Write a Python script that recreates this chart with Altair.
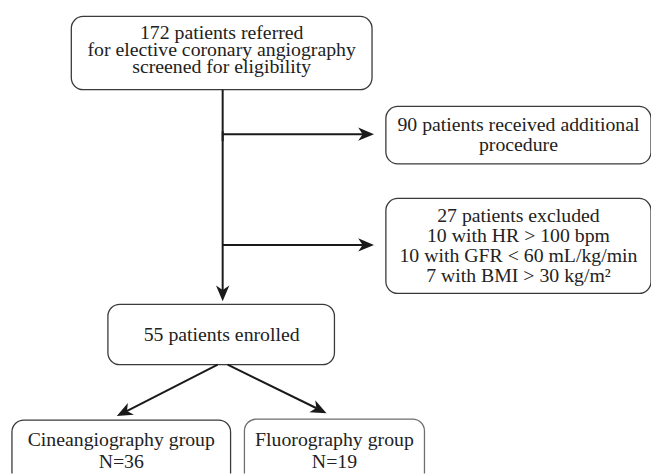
import altair as alt
import pandas as pd
import numpy as np

# Boxes (left, right, top, bottom) in picture units
box_left = [72, 390, 390, 109, 12, 247]
box_right = [376, 658, 658, 338, 233, 429]
box_top = [14, 105, 198, 305, 422, 421]
box_bottom = [88, 163, 294, 366, 500, 500]
box_color = ["#3a3a3a", "#3a3a3a", "#3a3a3a", "#3a3a3a", "#3a3a3a", "#6e6e6e"]

# Text lines
text_x = [224, 224, 224, 524, 524, 524, 524, 524, 524, 224, 122.5, 122.5, 338, 338]
text_y = [31, 48, 65, 124, 144, 216, 236, 256, 276, 336, 442, 464, 442, 464]
text_label = [
    "172 patients referred",
    "for elective coronary angiography",
    "screened for eligibility",
    "90 patients received additional",
    "procedure",
    "27 patients excluded",
    "10 with HR > 100 bpm",
    "10 with GFR < 60 mL/kg/min",
    "7 with BMI > 30 kg/m²",
    "55 patients enrolled",
    "Cineangiography group",
    "N=36",
    "Fluorography group",
    "N=19",
]

# Plain connector (no head)
line_x1 = [225]
line_y1 = [88]
line_x2 = [225]
line_y2 = [140]

# Arrows: start -> tip
arrow_x1 = [225, 225, 225, 220, 230]
arrow_y1 = [130, 133, 245, 366, 366]
arrow_x2 = [225, 378, 378, 118, 330]
arrow_y2 = [302, 133, 245, 418, 415]

HEAD = 16  # head length

boxes = pd.DataFrame({"x": box_left, "x2": box_right, "y": box_top, "y2": box_bottom, "c": box_color})
texts = pd.DataFrame({"x": text_x, "y": text_y, "t": text_label})

ax1 = np.array(arrow_x1, float); ay1 = np.array(arrow_y1, float)
ax2 = np.array(arrow_x2, float); ay2 = np.array(arrow_y2, float)
dx = ax2 - ax1; dy = ay2 - ay1
ln = np.hypot(dx, dy)
ux = dx / ln; uy = dy / ln
ang = (np.degrees(np.arctan2(dy, dx)) + 360) % 360
lines = pd.DataFrame({
    "x": list(ax1) + line_x1,
    "y": list(ay1) + line_y1,
    "x2": list(ax2 - ux * HEAD * 0.7) + line_x2,
    "y2": list(ay2 - uy * HEAD * 0.7) + line_y2,
})
heads = pd.DataFrame({"x": ax2, "y": ay2, "a": ang})

W, H = 650, 468
xs = alt.Scale(domain=[8, 8 + W])
ys = alt.Scale(domain=[8, 8 + H], reverse=True)

rects = alt.Chart(boxes).mark_rect(cornerRadius=12, fill="white", strokeWidth=1.3, clip=True).encode(
    x=alt.X("x:Q", scale=xs, axis=None),
    x2="x2:Q",
    y=alt.Y("y:Q", scale=ys, axis=None),
    y2="y2:Q",
    stroke=alt.Stroke("c:N", scale=None),
)

rules = alt.Chart(lines).mark_rule(color="#1a1a1a", strokeWidth=2).encode(
    x=alt.X("x:Q", scale=xs, axis=None),
    y=alt.Y("y:Q", scale=ys, axis=None),
    x2="x2:Q",
    y2="y2:Q",
)

arrowheads = alt.Chart(heads).mark_point(
    shape="M0,0 L-1,-0.42 L-0.72,0 L-1,0.42 Z",
    filled=True, color="#1a1a1a", opacity=1, size=(2 * HEAD) ** 2,
).encode(
    x=alt.X("x:Q", scale=xs, axis=None),
    y=alt.Y("y:Q", scale=ys, axis=None),
    angle=alt.Angle("a:Q", scale=None),
)

labels = alt.Chart(texts).mark_text(
    font="Liberation Serif", fontSize=20, color="#222222",
    align="center", baseline="middle"
).encode(
    x=alt.X("x:Q", scale=xs, axis=None),
    y=alt.Y("y:Q", scale=ys, axis=None),
    text="t:N",
)

chart = alt.layer(rects, rules, arrowheads, labels).properties(
    width=W, height=H, padding=0, autosize=alt.AutoSizeParams(type="none"), background="white"
).configure_view(stroke=None)

chart.save("out.html", embed_options={"renderer": "svg", "actions": False})
